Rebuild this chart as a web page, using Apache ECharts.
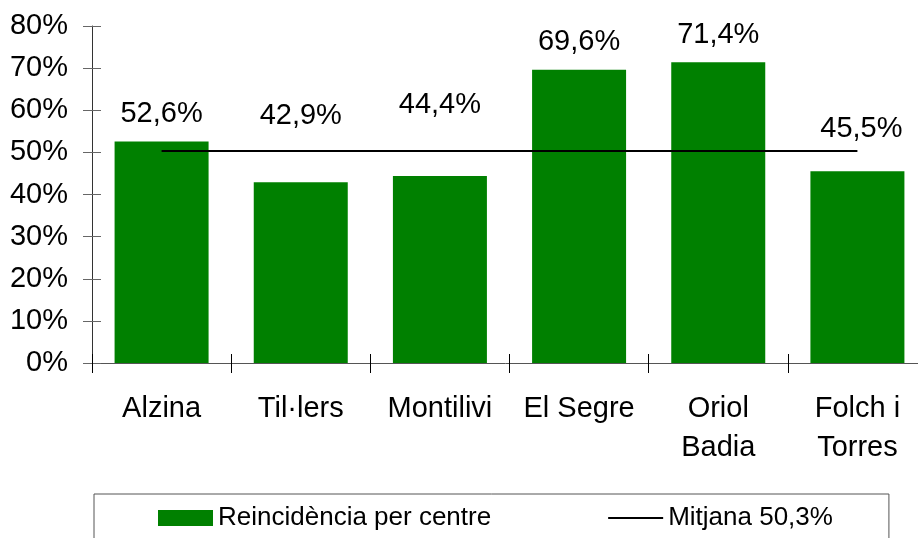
<!DOCTYPE html>
<html>
<head>
<meta charset="utf-8">
<script src="https://cdn.jsdelivr.net/npm/echarts@6/dist/echarts.min.js"></script>
<style>
    html, body { margin: 0; padding: 0; background: #fff; }
    #chart { width: 918px; height: 538px; }
</style>
</head>
<body>
<div id="chart"></div>
<script>
var centres   = ['Alzina', 'Til·lers', 'Montilivi', 'El Segre', 'Oriol\nBadia', 'Folch i\nTorres'];
var reincid   = [52.6, 42.9, 44.4, 69.6, 71.4, 45.5];
var mitjana   = 50.3;
var yTicks    = [0, 10, 20, 30, 40, 50, 60, 70, 80];

// labels were moved by hand in the original, lift each one a bit
var labelLift  = [0, 39, 43, 0, 0, 15];
var labelShift = [0, 0, 0, 0, 0, 4];

var font = "'Liberation Sans', Arial, sans-serif";
var green = '#008000';

// thin bar for the legend, with tiny corner points so it is not stretched
var lineIcon = 'path://M0,0 L0.1,0 L0.1,0.1 Z M0,7 L55,7 L55,9 L0,9 Z M54.9,16 L55,16 L55,15.9 Z';

function pct(v) {
    return v.toFixed(1).replace('.', ',') + '%';
}

var barData = reincid.map(function (v, i) {
    return {
        value : v,
        label : { offset : [labelShift[i], -labelLift[i]] }
    };
});

var lineData = centres.map(function () { return mitjana; });

const myChart = echarts.init(document.getElementById('chart'));

var option = {
    backgroundColor : '#fff',
    animation       : false,
    textStyle       : { fontFamily: font },
    grid : {
        left            : 92,
        top             : 26,
        bottom          : 175,
        width           : 835,
        outerBoundsMode : 'none'
    },
    legend : {
        left         : 94,
        top          : 494,
        padding      : [11, 56, 40, 64],
        itemGap      : 117,
        itemWidth    : 55,
        itemHeight   : 16,
        borderColor  : '#555',
        borderWidth  : 1,
        textStyle    : { fontSize: 26, color: '#000', fontFamily: font },
        data         : [
            { name: 'Reincidència per centre', icon: 'rect' },
            { name: 'Mitjana ' + pct(mitjana), icon: lineIcon }
        ]
    },
    xAxis : [
        {
            type      : 'category',
            data      : centres,
            axisLine  : { lineStyle: { color: '#555', width: 1 } },
            axisTick  : { show: true, interval: 0, length: 10, lineStyle: { color: '#000' } },
            axisLabel : {
                interval   : 0,
                fontSize   : 29,
                lineHeight : 39,
                color      : '#000',
                margin     : 26,
                fontFamily : font
            }
        },
        {
            type      : 'category',
            data      : centres,
            position  : 'bottom',
            axisLine  : { show: false },
            axisTick  : { show: true, interval: 0, inside: true, length: 9, lineStyle: { color: '#000' } },
            axisLabel : { show: false }
        }
    ],
    yAxis : [
        {
            type      : 'value',
            min       : yTicks[0],
            max       : yTicks[yTicks.length - 1],
            interval  : 10,
            splitLine : { show: false },
            axisLine  : { show: true, lineStyle: { color: '#333' } },
            axisTick  : { show: true, length: 9, lineStyle: { color: '#666' } },
            axisLabel : {
                fontSize   : 29,
                color      : '#000',
                margin     : 24,
                fontFamily : font,
                formatter  : '{value}%'
            }
        },
        {
            type      : 'value',
            min       : yTicks[0],
            max       : yTicks[yTicks.length - 1],
            interval  : 10,
            position  : 'left',
            splitLine : { show: false },
            axisLine  : { show: false },
            axisTick  : { show: true, inside: true, length: 9, lineStyle: { color: '#666' } },
            axisLabel : { show: false }
        }
    ],
    series : [
        {
            name      : 'Reincidència per centre',
            type      : 'bar',
            data      : barData,
            barWidth  : 94,
            itemStyle : { color: green },
            label     : {
                show       : true,
                position   : 'top',
                distance   : 13,
                fontSize   : 29,
                color      : '#000',
                fontFamily : font,
                formatter  : function (p) { return pct(p.value); }
            }
        },
        {
            name       : 'Mitjana ' + pct(mitjana),
            type       : 'line',
            data       : lineData,
            symbol     : 'none',
            z          : 5,
            lineStyle  : { color: '#000', width: 2 },
            itemStyle  : { color: '#000' }
        }
    ]
};

myChart.setOption(option);
</script>
</body>
</html>
